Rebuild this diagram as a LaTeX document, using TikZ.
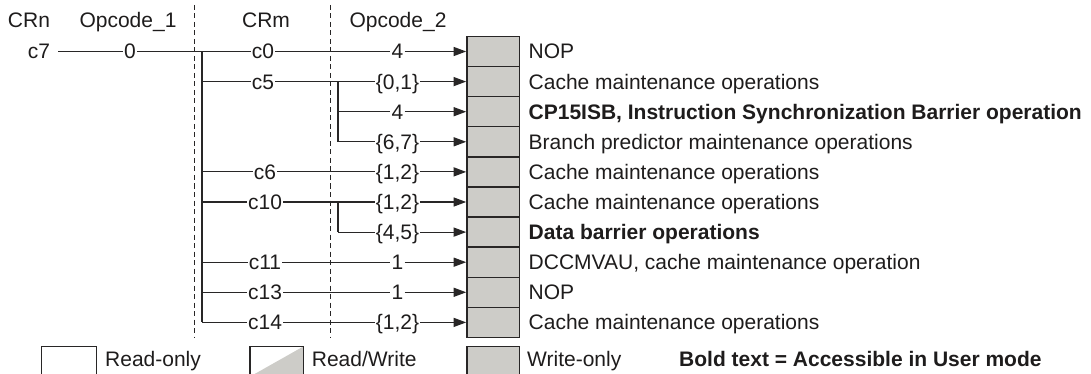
\documentclass[tikz,border=0pt]{standalone}
\usepackage{fontspec}
\setmainfont{Liberation Sans}
\usetikzlibrary{arrows.meta}
\definecolor{ln}{RGB}{40,38,38}
\definecolor{txt}{RGB}{30,28,28}
\definecolor{boxfill}{RGB}{205,204,200}
\begin{document}
\begin{tikzpicture}[x=1pt,y=-1pt,font=\fontsize{21}{25}\selectfont,
  lbl/.style={inner sep=1pt,text=txt,text height=15pt,text depth=0pt},
  hdr/.style={anchor=base,inner sep=0pt,text=txt},
  desc/.style={anchor=base west,inner sep=0pt,text=txt},
  wire/.style={draw=ln,line width=1.2pt},
  arr/.style={wire,-{Triangle[length=12.5pt,width=9pt]}},
  cell/.style={draw=ln,fill=boxfill,line width=1.5pt,minimum width=52.5pt,minimum height=30.1pt,inner sep=0pt},
  sep/.style={draw=ln,line width=0.9pt,dash pattern=on 5pt off 3.5pt}]
\useasboundingbox (0,0) rectangle (1091,374);

% headers
\node[hdr] (hCRn) at (29,27.5) {CRn};
\node[hdr] (hOp1) at (128,27.5) {Opcode\_1};
\node[hdr] (hCRm) at (266,27.5) {CRm};
\node[hdr] (hOp2) at (398,27.5) {Opcode\_2};

% dashed separators
\coordinate (d1t) at (194,5);
\coordinate (d1b) at (194,338);
\coordinate (d2t) at (330.5,5);
\coordinate (d2b) at (330.5,338);
\draw[sep] (d1t) -- (d1b);
\draw[sep] (d2t) -- (d2b);

% register cells
\foreach \i/\y in {1/51.5,2/81.6,3/111.7,4/141.8,5/171.9,6/202,7/232.1,8/262.2,9/292.3,10/322.4}{
  \node[cell] (b\i) at (493.2,\y) {};
}

% descriptions
\node[desc] (t1) at (528.5,59) {NOP};
\node[desc] (t2) at (528.5,89.1) {Cache maintenance operations};
\node[desc] (t3) at (528.5,119.2) {\bfseries CP15ISB, Instruction Synchronization Barrier operation};
\node[desc] (t4) at (528.5,149.3) {Branch predictor maintenance operations};
\node[desc] (t5) at (528.5,179.4) {Cache maintenance operations};
\node[desc] (t6) at (528.5,209.5) {Cache maintenance operations};
\node[desc] (t7) at (528.5,239.6) {\bfseries Data barrier operations};
\node[desc] (t8) at (528.5,269.7) {DCCMVAU, cache maintenance operation};
\node[desc] (t9) at (528.5,299.8) {NOP};
\node[desc] (t10) at (528.5,329.9) {Cache maintenance operations};

% CRn / Opcode_1
\node[lbl] (c7) at (39,51.5) {c7};
\node[lbl] (o1) at (130,51.5) {0};
\coordinate (k1) at (202,51.5);
\coordinate (k2) at (202,81.6);
\coordinate (k5) at (202,171.9);
\coordinate (k6) at (202,202);
\coordinate (k8) at (202,262.2);
\coordinate (k9) at (202,292.3);
\coordinate (k10) at (202,322.4);
\draw[wire,shorten <=7pt] (c7) -- (o1);
\draw[wire] (o1) -- (k1);
\draw[wire] (k1) -- (k10);

% CRm labels
\node[lbl] (m1) at (263,51.5) {c0};
\node[lbl] (m2) at (263,81.6) {c5};
\node[lbl] (m5) at (265,171.9) {c6};
\node[lbl] (m6) at (265,202) {c10};
\node[lbl] (m8) at (265,262.2) {c11};
\node[lbl] (m9) at (265,292.3) {c13};
\node[lbl] (m10) at (265,322.4) {c14};

% Opcode_2 labels
\node[lbl] (p1) at (397.5,51.5) {4};
\node[lbl] (p2) at (397.5,81.6) {\{0,1\}};
\node[lbl] (p3) at (397.5,111.7) {4};
\node[lbl] (p4) at (397.5,141.8) {\{6,7\}};
\node[lbl] (p5) at (397.5,171.9) {\{1,2\}};
\node[lbl] (p6) at (397.5,202) {\{1,2\}};
\node[lbl] (p7) at (397.5,232.1) {\{4,5\}};
\node[lbl] (p8) at (397.5,262.2) {1};
\node[lbl] (p9) at (397.5,292.3) {1};
\node[lbl] (p10) at (397.5,322.4) {\{1,2\}};

% sub-trunks
\coordinate (s2) at (338,81.6);
\coordinate (s3) at (338,111.7);
\coordinate (s4) at (338,141.8);
\coordinate (s6) at (338,202);
\coordinate (s7) at (338,232.1);
\draw[wire] (s2) -- (s4);
\draw[wire] (s6) -- (s7);

% branches
\foreach \i in {1,2,5,6,8,9,10}{
  \draw[wire] (k\i) -- (m\i);
  \draw[wire] (m\i) -- (p\i);
}
\draw[wire] (s3) -- (p3);
\draw[wire] (s4) -- (p4);
\draw[wire] (s7) -- (p7);
\foreach \i in {1,...,10}{
  \draw[arr] (p\i) -- (b\i.west);
}

% legend
\node[draw=ln,line width=1.5pt,fill=white,minimum width=55pt,minimum height=30.1pt,inner sep=0pt] (lgRO) at (69.2,361.6) {};
\node[desc] (lgROt) at (105,366.5) {Read-only};
\coordinate (rwA) at (250,376.6);
\coordinate (rwB) at (303.3,346.5);
\coordinate (rwC) at (303.3,376.6);
\fill[boxfill] (rwA) -- (rwB) -- (rwC) -- cycle;
\node[draw=ln,line width=1.5pt,minimum width=53.3pt,minimum height=30.1pt,inner sep=0pt] (lgRW) at (276.6,361.6) {};
\node[desc] (lgRWt) at (311.7,366.5) {Read/Write};
\node[cell] (lgWO) at (493.2,361.6) {};
\node[desc] (lgWOt) at (527,366.5) {Write-only};
\node[desc] (lgB) at (679,366.5) {\bfseries Bold text = Accessible in User mode};
\end{tikzpicture}
\end{document}
